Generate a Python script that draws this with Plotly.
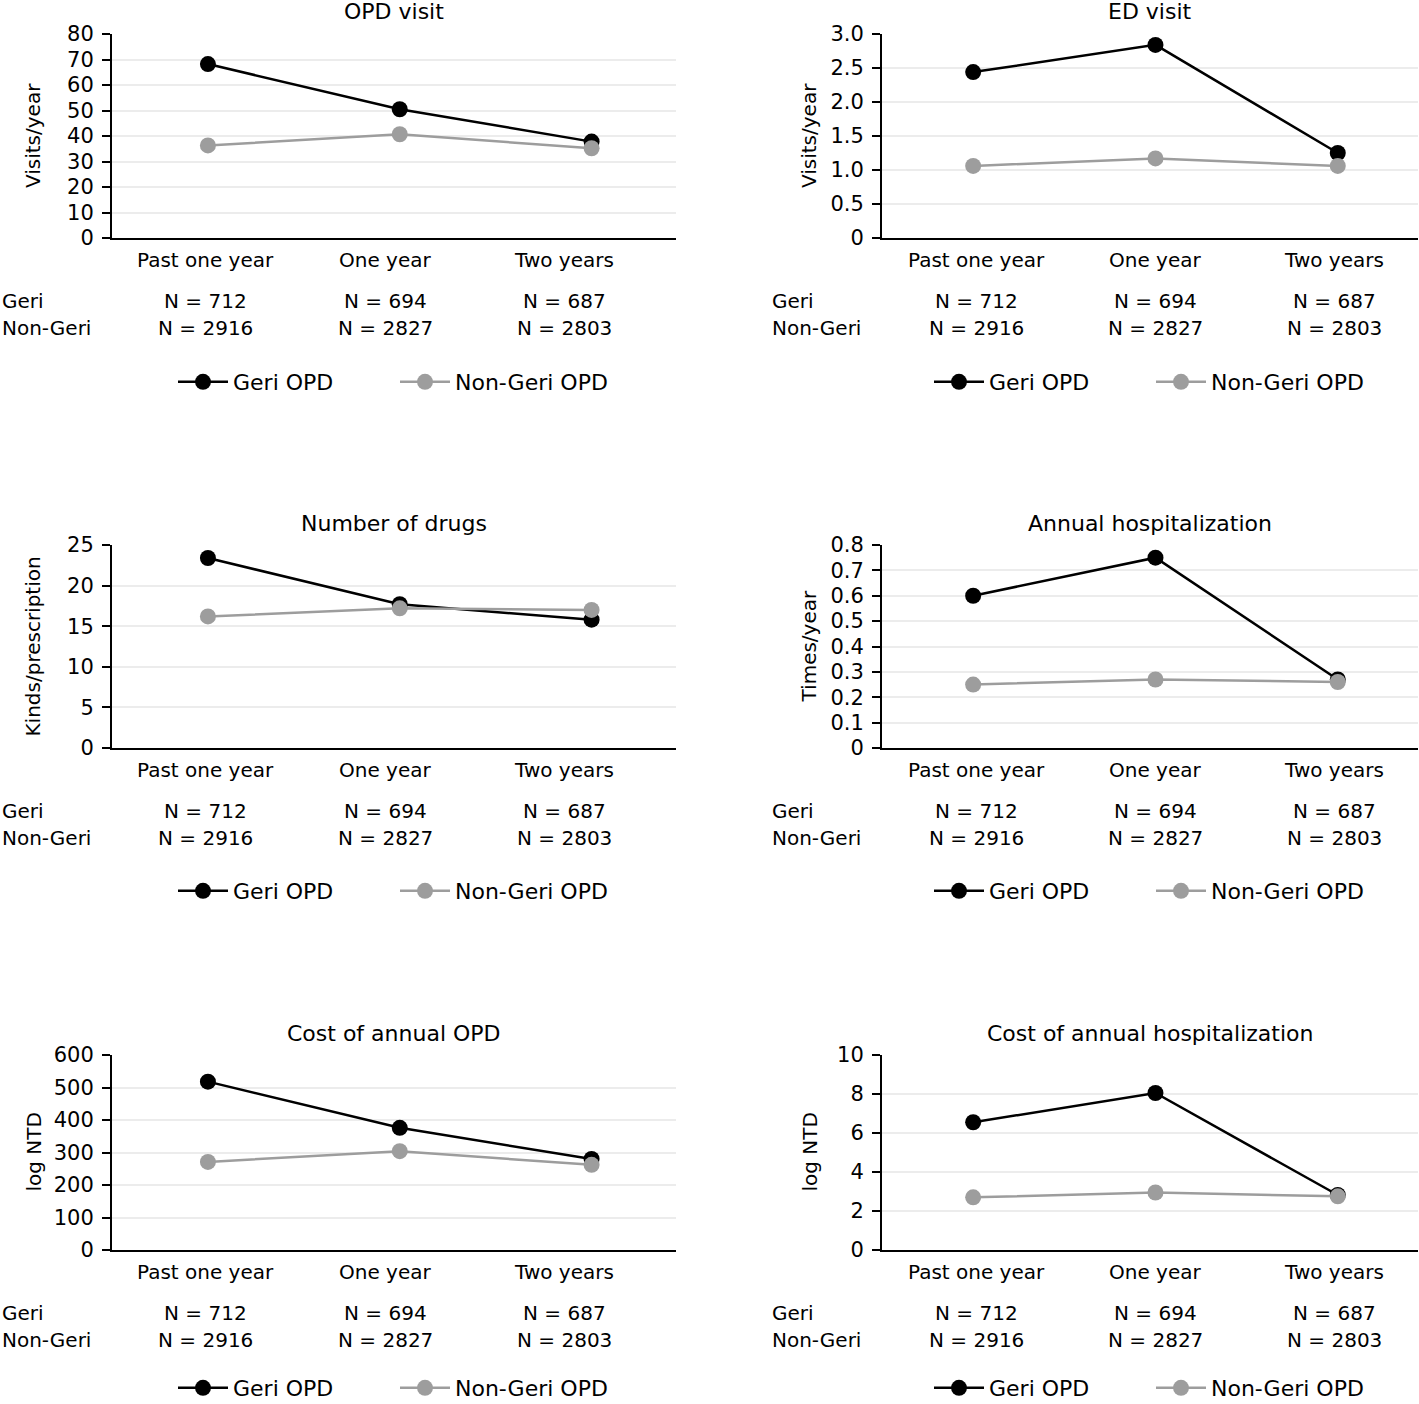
import plotly.graph_objects as go

W, H = 1419, 1404

# ---------------- data ----------------
categories = ["Past one year", "One year", "Two years"]
geri_n = [712, 694, 687]
nongeri_n = [2916, 2827, 2803]
group_labels = ["Geri", "Non-Geri"]
series_names = ["Geri OPD", "Non-Geri OPD"]

titles = ["OPD visit", "ED visit", "Number of drugs", "Annual hospitalization",
          "Cost of annual OPD", "Cost of annual hospitalization"]
y_titles = ["Visits/year", "Visits/year", "Kinds/prescription", "Times/year",
            "log NTD", "log NTD"]

opd_geri = [68.2, 50.5, 37.8]
opd_non = [36.3, 40.7, 35.2]
ed_geri = [2.44, 2.84, 1.25]
ed_non = [1.06, 1.17, 1.06]
drugs_geri = [23.4, 17.7, 15.8]
drugs_non = [16.2, 17.2, 17.0]
hosp_geri = [0.60, 0.75, 0.27]
hosp_non = [0.25, 0.27, 0.26]
cost_opd_geri = [518, 376, 280]
cost_opd_non = [271, 304, 262]
cost_hosp_geri = [6.55, 8.05, 2.82]
cost_hosp_non = [2.70, 2.95, 2.75]

opd_ticks = [0, 10, 20, 30, 40, 50, 60, 70, 80]
opd_tick_text = ["0", "10", "20", "30", "40", "50", "60", "70", "80"]
ed_ticks = [0, 0.5, 1.0, 1.5, 2.0, 2.5, 3.0]
ed_tick_text = ["0", "0.5", "1.0", "1.5", "2.0", "2.5", "3.0"]
drugs_ticks = [0, 5, 10, 15, 20, 25]
drugs_tick_text = ["0", "5", "10", "15", "20", "25"]
hosp_ticks = [0, 0.1, 0.2, 0.3, 0.4, 0.5, 0.6, 0.7, 0.8]
hosp_tick_text = ["0", "0.1", "0.2", "0.3", "0.4", "0.5", "0.6", "0.7", "0.8"]
cost_opd_ticks = [0, 100, 200, 300, 400, 500, 600]
cost_opd_tick_text = ["0", "100", "200", "300", "400", "500", "600"]
cost_hosp_ticks = [0, 2, 4, 6, 8, 10]
cost_hosp_tick_text = ["0", "2", "4", "6", "8", "10"]

geri_values = [opd_geri, ed_geri, drugs_geri, hosp_geri, cost_opd_geri, cost_hosp_geri]
nongeri_values = [opd_non, ed_non, drugs_non, hosp_non, cost_opd_non, cost_hosp_non]
tick_vals = [opd_ticks, ed_ticks, drugs_ticks, hosp_ticks, cost_opd_ticks, cost_hosp_ticks]
tick_texts = [opd_tick_text, ed_tick_text, drugs_tick_text, hosp_tick_text,
              cost_opd_tick_text, cost_hosp_tick_text]

# ---------------- layout geometry (pixels) ----------------
FONT = "DejaVu Sans"
col_left = [112, 882]
col_right = [676, 1418]
row_top = [34, 545, 1055]
row_bottom = [238, 748, 1250]
legend_offset = [144, 143, 138]
ytitle_x = [33, 809]


def px(x):
    return x / W


def py(y):
    return 1 - y / H


fig = go.Figure()
layout = dict(
    width=W, height=H,
    margin=dict(l=0, r=0, t=0, b=0, autoexpand=False),
    paper_bgcolor="white", plot_bgcolor="white",
    font=dict(family=FONT, color="black"),
    showlegend=True,
)
annotations = []

for i in range(6):
    r, c = divmod(i, 2)
    s = "" if i == 0 else str(i + 1)
    xl, xr = col_left[c], col_right[c]
    yt, yb = row_top[r], row_bottom[r]
    leg = "legend" + s

    fig.add_trace(go.Scatter(
        x=categories, y=geri_values[i], name=series_names[0],
        mode="lines+markers", xaxis="x" + s, yaxis="y" + s, legend=leg,
        line=dict(color="black", width=2.5),
        marker=dict(size=16, color="black"),
    ))
    fig.add_trace(go.Scatter(
        x=categories, y=nongeri_values[i], name=series_names[1],
        mode="lines+markers", xaxis="x" + s, yaxis="y" + s, legend=leg,
        line=dict(color="#9d9d9d", width=2.5),
        marker=dict(size=16, color="#9d9d9d"),
    ))

    layout["xaxis" + s] = dict(
        domain=[px(xl), px(xr)], anchor="y" + s, type="category",
        range=[-0.5, 2.44], showticklabels=False, showgrid=False,
        showline=True, linecolor="black", linewidth=2, ticks="",
        zeroline=False, fixedrange=True,
    )
    tv = tick_vals[i]
    layout["yaxis" + s] = dict(
        domain=[py(yb), py(yt)], anchor="x" + s,
        range=[tv[0], tv[-1]], tickvals=tv, ticktext=tick_texts[i],
        showgrid=True, gridcolor="#ececec", gridwidth=2,
        showline=True, linecolor="black", linewidth=2,
        ticks="outside", ticklen=8, tickwidth=2, tickcolor="black",
        tickfont=dict(size=21, family=FONT, color="black"),
        ticklabelstandoff=4,
        zeroline=False, fixedrange=True,
    )

    cx = (xl + xr) / 2
    annotations.append(dict(
        text=titles[i], x=px(cx), y=py(yt - 22), xref="paper", yref="paper",
        xanchor="center", yanchor="middle", showarrow=False,
        font=dict(size=22, family=FONT, color="black"),
    ))
    annotations.append(dict(
        text=y_titles[i], x=px(ytitle_x[c]), y=py((yt + yb) / 2),
        xref="paper", yref="paper", textangle=-90,
        xanchor="center", yanchor="middle", showarrow=False,
        font=dict(size=20, family=FONT, color="black"),
    ))
    for j, cat in enumerate(categories):
        lx = xl + 94 + 179 * j
        annotations.append(dict(
            text=cat, x=px(lx), y=py(yb + 22), xref="paper", yref="paper",
            xanchor="center", yanchor="middle", showarrow=False,
            font=dict(size=20, family=FONT, color="black"),
        ))
        annotations.append(dict(
            text="N = %d" % geri_n[j], x=px(lx), y=py(yb + 63),
            xref="paper", yref="paper", xanchor="center", yanchor="middle",
            showarrow=False, font=dict(size=20, family=FONT, color="black"),
        ))
        annotations.append(dict(
            text="N = %d" % nongeri_n[j], x=px(lx), y=py(yb + 90),
            xref="paper", yref="paper", xanchor="center", yanchor="middle",
            showarrow=False, font=dict(size=20, family=FONT, color="black"),
        ))
    for k, g in enumerate(group_labels):
        annotations.append(dict(
            text=g, x=px(xl - 112), y=py(yb + 63 + 27 * k),
            xref="paper", yref="paper", xanchor="left", yanchor="middle",
            showarrow=False, font=dict(size=20, family=FONT, color="black"),
        ))

    layout[leg] = dict(
        x=px(cx + 1), y=py(yb + legend_offset[r]), xanchor="center", yanchor="middle",
        orientation="h", bgcolor="rgba(0,0,0,0)", borderwidth=0,
        font=dict(size=22, family=FONT, color="black"),
        itemwidth=50, entrywidth=157, entrywidthmode="pixels",
    )

layout["annotations"] = annotations
fig.update_layout(**layout)
fig.write_html(
    "out.html",
    config={"responsive": False, "displayModeBar": False},
    post_script="document.body.style.margin='0';document.body.style.overflow='hidden';",
)
